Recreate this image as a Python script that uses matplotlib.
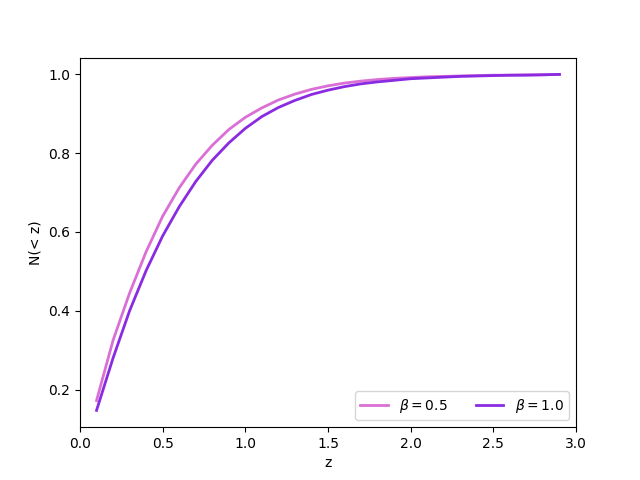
import matplotlib
matplotlib.use("Agg")
import matplotlib.pyplot as plt

# ----------------------------------------------------------------------
# Data
# ----------------------------------------------------------------------
z = [0.1, 0.2, 0.3, 0.4, 0.5, 0.6, 0.7, 0.8, 0.9, 1.0,
     1.1, 1.2, 1.3, 1.4, 1.5, 1.6, 1.7, 1.8, 1.9, 2.0,
     2.1, 2.2, 2.3, 2.4, 2.5, 2.6, 2.7, 2.8, 2.9]

n_beta05 = [0.172, 0.325, 0.445, 0.550, 0.640, 0.712, 0.772, 0.820, 0.860, 0.891,
            0.915, 0.935, 0.950, 0.962, 0.971, 0.978, 0.983, 0.987, 0.990, 0.992,
            0.994, 0.995, 0.996, 0.997, 0.998, 0.998, 0.999, 0.999, 1.000]

n_beta10 = [0.147, 0.280, 0.400, 0.502, 0.590, 0.664, 0.728, 0.782, 0.826, 0.863,
            0.893, 0.916, 0.934, 0.949, 0.960, 0.969, 0.976, 0.981, 0.985, 0.989,
            0.991, 0.993, 0.995, 0.996, 0.997, 0.998, 0.998, 0.999, 1.000]


def main() -> None:
    fig, ax = plt.subplots(figsize=(6.4, 4.8), dpi=100)

    ax.plot(z, n_beta05, color="orchid", linewidth=2, label=r"$\beta=0.5$")
    ax.plot(z, n_beta10, color="blueviolet", linewidth=2, label=r"$\beta=1.0$")

    ax.set_xlim(0, 3.0)
    ax.set_xlabel("z")
    ax.set_ylabel("N(< z)")
    ax.legend(loc="lower right", ncol=2)

    fig.savefig("out.png", dpi=100)


if __name__ == "__main__":
    main()
